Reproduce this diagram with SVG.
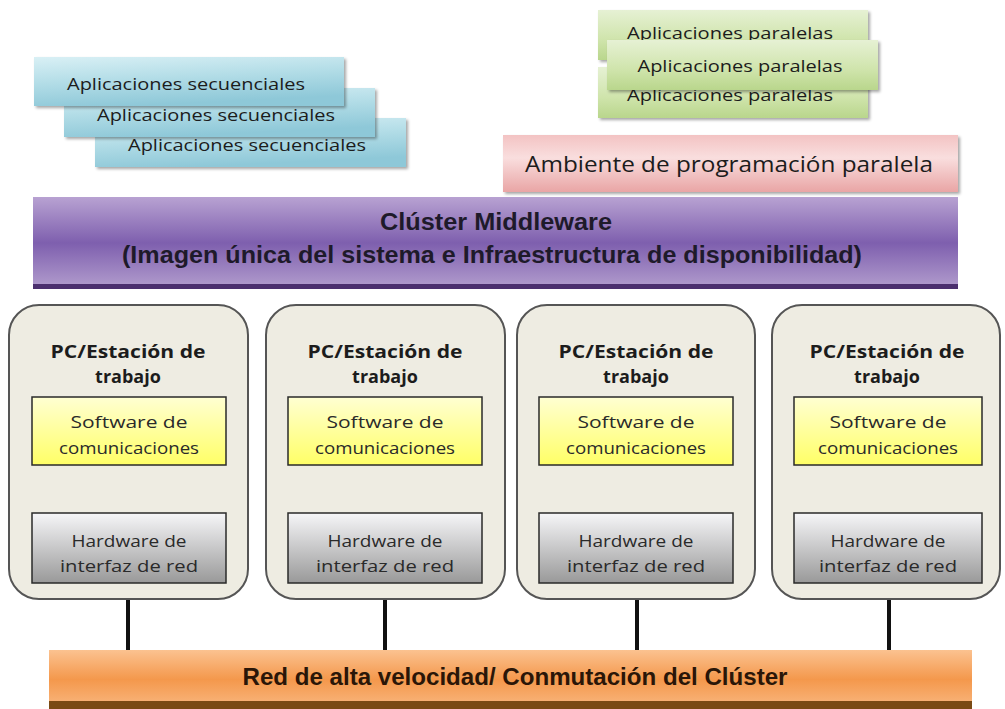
<svg xmlns="http://www.w3.org/2000/svg" width="1005" height="709" viewBox="0 0 1005 709">
<defs>
<linearGradient id="gBlue" x1="0" y1="0" x2="0.3" y2="1">
<stop offset="0" stop-color="#d9f0f5"/><stop offset="0.5" stop-color="#b3dde7"/><stop offset="1" stop-color="#8ec8d8"/>
</linearGradient>
<linearGradient id="gGreen" x1="0" y1="0" x2="0" y2="1">
<stop offset="0" stop-color="#e6f1d4"/><stop offset="0.6" stop-color="#cfe4ab"/><stop offset="1" stop-color="#b9d68c"/>
</linearGradient>
<linearGradient id="gPink" x1="0" y1="0" x2="0" y2="1">
<stop offset="0" stop-color="#f3c3c3"/><stop offset="0.4" stop-color="#f9dede"/><stop offset="1" stop-color="#e9a5a5"/>
</linearGradient>
<linearGradient id="gPurple" x1="0" y1="0" x2="0" y2="1">
<stop offset="0" stop-color="#b8a2d2"/><stop offset="0.5" stop-color="#7e5fae"/><stop offset="1" stop-color="#b39ece"/>
</linearGradient>
<linearGradient id="gOrange" x1="0" y1="0" x2="0" y2="1">
<stop offset="0" stop-color="#fbc290"/><stop offset="0.5" stop-color="#f4984c"/><stop offset="1" stop-color="#f9b881"/>
</linearGradient>
<linearGradient id="gYellow" x1="0" y1="0" x2="0" y2="1">
<stop offset="0" stop-color="#ffffd2"/><stop offset="1" stop-color="#ffff66"/>
</linearGradient>
<linearGradient id="gGray" x1="0" y1="0" x2="0" y2="1">
<stop offset="0" stop-color="#f6f6f8"/><stop offset="1" stop-color="#999999"/>
</linearGradient>
<filter id="sh" x="-5%" y="-10%" width="110%" height="130%">
<feDropShadow dx="2" dy="2" stdDeviation="1.5" flood-color="#000" flood-opacity="0.35"/>
</filter>
</defs>
<style>
text{font-family:"Open Sans","Liberation Sans",sans-serif;fill:#1c1c1c;text-anchor:middle}
.app{font-size:16px}
.big{font-size:22px}
.mid{font-family:"Liberation Sans Narrow","Liberation Sans",sans-serif;font-weight:bold;font-size:23px;fill:#1e1a2a}
.nt{font-weight:bold;font-size:18px}
.it{font-size:16px;fill:#2a2a2a}
.node{fill:#eeece2;stroke:#555;stroke-width:2}
.inner{stroke:#2a2a2a;stroke-width:1.5}
.conn{stroke:#111;stroke-width:4}
</style>

<g id="seq-apps">
<rect x="95" y="118" width="311" height="49" fill="url(#gBlue)" filter="url(#sh)"/>
<text class="app" x="247" y="151" textLength="238" lengthAdjust="spacingAndGlyphs">Aplicaciones secuenciales</text>
<rect x="64" y="88" width="311" height="49" fill="url(#gBlue)" filter="url(#sh)"/>
<text class="app" x="216" y="121" textLength="238" lengthAdjust="spacingAndGlyphs">Aplicaciones secuenciales</text>
<rect x="34" y="57" width="310" height="49" fill="url(#gBlue)" filter="url(#sh)"/>
<text class="app" x="186" y="90" textLength="238" lengthAdjust="spacingAndGlyphs">Aplicaciones secuenciales</text>
</g>

<g id="par-apps">
<rect x="598" y="10" width="270" height="50" fill="url(#gGreen)" filter="url(#sh)"/>
<text class="app" x="730" y="39" textLength="206" lengthAdjust="spacingAndGlyphs">Aplicaciones paralelas</text>
<rect x="598" y="67" width="270" height="51" fill="url(#gGreen)" filter="url(#sh)"/>
<text class="app" x="730" y="101" textLength="206" lengthAdjust="spacingAndGlyphs">Aplicaciones paralelas</text>
<rect x="607" y="40" width="271" height="50" fill="url(#gGreen)" filter="url(#sh)"/>
<text class="app" x="740" y="72" textLength="205" lengthAdjust="spacingAndGlyphs">Aplicaciones paralelas</text>
</g>

<g id="par-env">
<rect x="503" y="135" width="455" height="57" fill="url(#gPink)" filter="url(#sh)"/>
<text class="big" x="729" y="172" textLength="408" lengthAdjust="spacingAndGlyphs">Ambiente de programación paralela</text>
</g>

<g id="middleware">
<rect x="33" y="197" width="925" height="92" fill="url(#gPurple)"/>
<rect x="33" y="284" width="925" height="5" fill="#4b2f6e"/>
<text class="mid" x="496" y="230" textLength="232" lengthAdjust="spacingAndGlyphs">Clúster Middleware</text>
<text class="mid" x="492" y="263" textLength="740" lengthAdjust="spacingAndGlyphs">(Imagen única del sistema e Infraestructura de disponibilidad)</text>
</g>

<g id="connectors">
<line class="conn" x1="128" y1="599" x2="128" y2="651"/>
<line class="conn" x1="385" y1="599" x2="385" y2="651"/>
<line class="conn" x1="637" y1="599" x2="637" y2="651"/>
<line class="conn" x1="889" y1="599" x2="889" y2="651"/>
</g>

<g id="node1">
<rect class="node" x="9" y="305" width="239" height="294" rx="30"/>
<text class="nt" x="128" y="358" textLength="155" lengthAdjust="spacingAndGlyphs">PC/Estación de</text>
<text class="nt" x="128" y="383">trabajo</text>
<rect class="inner" x="32" y="397" width="194" height="68" fill="url(#gYellow)"/>
<text class="it" x="129" y="428" textLength="117" lengthAdjust="spacingAndGlyphs">Software de</text>
<text class="it" x="129" y="454" textLength="140" lengthAdjust="spacingAndGlyphs">comunicaciones</text>
<rect class="inner" x="32" y="513" width="194" height="70" fill="url(#gGray)"/>
<text class="it" x="129" y="547" textLength="115" lengthAdjust="spacingAndGlyphs">Hardware de</text>
<text class="it" x="129" y="572" textLength="138" lengthAdjust="spacingAndGlyphs">interfaz de red</text>
</g>

<g id="node2">
<rect class="node" x="266" y="305" width="239" height="294" rx="30"/>
<text class="nt" x="385" y="358" textLength="155" lengthAdjust="spacingAndGlyphs">PC/Estación de</text>
<text class="nt" x="385" y="383">trabajo</text>
<rect class="inner" x="288" y="397" width="194" height="68" fill="url(#gYellow)"/>
<text class="it" x="385" y="428" textLength="117" lengthAdjust="spacingAndGlyphs">Software de</text>
<text class="it" x="385" y="454" textLength="140" lengthAdjust="spacingAndGlyphs">comunicaciones</text>
<rect class="inner" x="288" y="513" width="194" height="70" fill="url(#gGray)"/>
<text class="it" x="385" y="547" textLength="115" lengthAdjust="spacingAndGlyphs">Hardware de</text>
<text class="it" x="385" y="572" textLength="138" lengthAdjust="spacingAndGlyphs">interfaz de red</text>
</g>

<g id="node3">
<rect class="node" x="517" y="305" width="238" height="294" rx="30"/>
<text class="nt" x="636" y="358" textLength="155" lengthAdjust="spacingAndGlyphs">PC/Estación de</text>
<text class="nt" x="636" y="383">trabajo</text>
<rect class="inner" x="539" y="397" width="194" height="68" fill="url(#gYellow)"/>
<text class="it" x="636" y="428" textLength="117" lengthAdjust="spacingAndGlyphs">Software de</text>
<text class="it" x="636" y="454" textLength="140" lengthAdjust="spacingAndGlyphs">comunicaciones</text>
<rect class="inner" x="539" y="513" width="194" height="70" fill="url(#gGray)"/>
<text class="it" x="636" y="547" textLength="115" lengthAdjust="spacingAndGlyphs">Hardware de</text>
<text class="it" x="636" y="572" textLength="138" lengthAdjust="spacingAndGlyphs">interfaz de red</text>
</g>

<g id="node4">
<rect class="node" x="772" y="305" width="228" height="294" rx="30"/>
<text class="nt" x="887" y="358" textLength="155" lengthAdjust="spacingAndGlyphs">PC/Estación de</text>
<text class="nt" x="887" y="383">trabajo</text>
<rect class="inner" x="794" y="397" width="188" height="68" fill="url(#gYellow)"/>
<text class="it" x="888" y="428" textLength="117" lengthAdjust="spacingAndGlyphs">Software de</text>
<text class="it" x="888" y="454" textLength="140" lengthAdjust="spacingAndGlyphs">comunicaciones</text>
<rect class="inner" x="794" y="513" width="188" height="70" fill="url(#gGray)"/>
<text class="it" x="888" y="547" textLength="115" lengthAdjust="spacingAndGlyphs">Hardware de</text>
<text class="it" x="888" y="572" textLength="138" lengthAdjust="spacingAndGlyphs">interfaz de red</text>
</g>

<g id="network">
<rect x="49" y="650" width="923" height="59" fill="url(#gOrange)"/>
<rect x="49" y="701" width="923" height="8" fill="#7a4a14"/>
<text class="mid" x="515" y="685" textLength="545" lengthAdjust="spacingAndGlyphs" style="fill:#2a1608">Red de alta velocidad/ Conmutación del Clúster</text>
</g>
</svg>
